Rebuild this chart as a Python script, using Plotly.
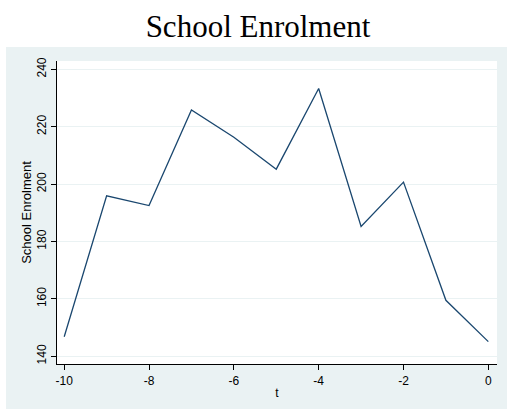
import plotly.graph_objects as go

t_values = [-10, -9, -8, -7, -6, -5, -4, -3, -2, -1, 0]
enrolment = [146.8, 195.9, 192.5, 225.8, 216.3, 205.2, 233.3, 185.2, 200.7, 159.5, 145.1]
x_ticks = [-10, -8, -6, -4, -2, 0]
y_ticks = [140, 160, 180, 200, 220, 240]

W, H = 507, 409
L, R, T, B = 57, 10, 61, 45
pw, ph = W - L - R, H - T - B

def px_to_paper_x(px):
    return (px - L) / pw

def px_to_paper_y(py):
    return (H - B - py) / ph

BG = "#EAF2F3"

fig = go.Figure()
fig.add_trace(go.Scatter(x=t_values, y=enrolment, mode="lines",
                         line=dict(color="#1a476f", width=1.3),
                         showlegend=False, hoverinfo="skip"))

fig.update_layout(
    width=W, height=H,
    margin=dict(l=L, r=R, t=T, b=B),
    paper_bgcolor="white",
    plot_bgcolor="white",
    title=dict(text="School Enrolment", x=258 / W, xref="container", xanchor="center",
               y=1 - 26 / H, yref="container", yanchor="middle",
               font=dict(family="Liberation Serif, Times New Roman, serif", size=31, color="black")),
    shapes=[
        dict(type="rect", xref="paper", yref="paper", layer="below",
             x0=px_to_paper_x(6), x1=px_to_paper_x(W + 2),
             y0=px_to_paper_y(H + 2), y1=px_to_paper_y(47),
             fillcolor=BG, line=dict(width=0)),
        dict(type="rect", xref="paper", yref="paper", layer="below",
             x0=0, x1=1, y0=0, y1=1,
             fillcolor="white", line=dict(width=0)),
    ],
    font=dict(family="Liberation Sans, Arial, sans-serif", color="black"),
)

fig.update_xaxes(
    range=[-10.17, 0.205], tickvals=x_ticks, ticktext=[str(v) for v in x_ticks],
    showgrid=False, zeroline=False, showline=True, linecolor="black", linewidth=1.3,
    ticks="outside", ticklen=5, tickcolor="black", tickwidth=1,
    tickfont=dict(size=12), title=dict(text="t", font=dict(size=12), standoff=2),
)
fig.update_yaxes(
    range=[137.3, 242.9], tickvals=y_ticks, ticktext=[str(v) for v in y_ticks],
    showgrid=True, gridcolor=BG, gridwidth=1, zeroline=False,
    showline=True, linecolor="black", linewidth=1.3,
    ticks="outside", ticklen=5, tickcolor="black", tickwidth=1,
    tickangle=-90, tickfont=dict(size=12),
    title=dict(text="School Enrolment", font=dict(size=13), standoff=0),
)

fig.write_html("out.html", config={"displayModeBar": False},
               post_script="document.body.style.margin='0';document.body.style.padding='0';")
